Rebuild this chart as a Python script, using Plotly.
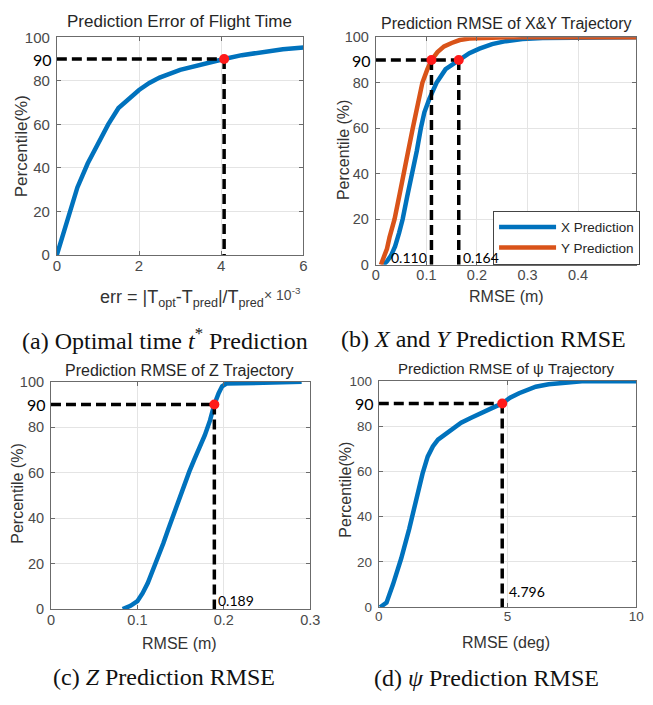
import plotly.graph_objects as go

W, H = 653, 705

# ---- data -------------------------------------------------------------
# (a) flight-time prediction error (x 1e-3) vs percentile
err_x = [0, 0.1, 0.25, 0.5, 0.75, 1.0, 1.25, 1.5, 1.75, 2.0, 2.25, 2.5, 3.0, 3.5, 4.07, 4.5, 5.0, 5.5, 6.0]
err_p = [0, 6, 15.5, 31, 42, 51.5, 60, 67.5, 72, 75.8, 79, 81.5, 85, 87.5, 90, 91.8, 93.3, 94.5, 95.3]
err_p90 = 4.07

# (b) X / Y trajectory RMSE (m)
x_rmse = [0.015, 0.022, 0.030, 0.038, 0.046, 0.053, 0.062, 0.072, 0.081, 0.089, 0.096, 0.106, 0.120,
          0.138, 0.164, 0.185, 0.205, 0.23, 0.257, 0.29, 0.33, 0.40, 0.515]
x_pct = [0, 1.5, 4, 8, 14, 20, 30, 40, 50, 60, 67, 73, 80, 86, 90, 93, 95, 97, 98.3, 99.2, 99.7, 100, 100]
y_rmse = [0.010, 0.016, 0.022, 0.027, 0.037, 0.047, 0.056, 0.064, 0.073, 0.082, 0.092, 0.102, 0.110,
          0.122, 0.135, 0.150, 0.166, 0.185, 0.21, 0.26, 0.515]
y_pct = [0, 3, 7, 12, 20, 31, 40, 50, 60, 70, 80, 86, 90, 93.5, 96, 97.5, 98.8, 99.5, 99.8, 100, 100]
x_p90 = 0.164
y_p90 = 0.110

# (c) Z trajectory RMSE (m)
z_rmse = [0.083, 0.092, 0.100, 0.106, 0.112, 0.118, 0.124, 0.130, 0.136, 0.142, 0.148, 0.154, 0.160,
          0.166, 0.172, 0.178, 0.184, 0.189, 0.194, 0.198, 0.203, 0.22, 0.25, 0.29]
z_pct = [0, 1.5, 3.5, 7, 11.5, 17, 23, 29, 35.5, 42, 48.5, 54.5, 60.5, 66, 71, 76.5, 83, 90, 95, 98,
         99.2, 99.4, 99.7, 100]
z_p90 = 0.189

# (d) yaw trajectory RMSE (deg)
psi_rmse = [0.05, 0.3, 0.55, 0.87, 1.18, 1.5, 1.7, 1.9, 2.1, 2.3, 2.6, 2.9, 3.2, 3.55, 3.9, 4.2, 4.5,
            4.796, 5.1, 5.45, 5.8, 6.1, 6.6, 7.3, 8.0, 9.0, 10.0]
psi_pct = [0, 2, 10, 21.5, 34.5, 50, 59, 66.5, 71, 74, 76.5, 79, 81.5, 83.5, 85.5, 87, 88.5, 90, 92.5,
           94.5, 96.2, 97.4, 98.5, 99.4, 99.9, 99.8, 99.8]
psi_p90 = 4.796

pct_level = 90
y_ticks = [0, 20, 40, 60, 80, 100]

# ---- styling ----------------------------------------------------------
BLUE = "#0072BD"
ORANGE = "#D95319"
RED = "#ff1a1a"
SANS = "Liberation Sans, Arial, sans-serif"
SERIF = "Liberation Serif, Times New Roman, serif"
NOTE = "Lato, Carlito, sans-serif"
DASH = "10px,5px"


def px(x):
    return x / W


def py(y):
    return 1 - y / H


fig = go.Figure()

# panel geometry in pixels: left, right, top, bottom
boxes = {
    1: (54, 306, 29, 252),
    2: (380, 646, 29, 262),
    3: (48, 313, 382, 615),
    4: (383, 646, 381, 613),
}
xranges = {1: [0, 6], 2: [0, 0.515], 3: [0, 0.3], 4: [0, 10]}
xticks = {1: [0, 2, 4, 6], 2: [0, 0.1, 0.2, 0.3, 0.4], 3: [0, 0.1, 0.2, 0.3], 4: [0, 5, 10]}
tick_size = {1: 15, 2: 14.5, 3: 14.5, 4: 13.5}


def axis_style(size):
    return dict(
        showline=True, linecolor="#6b6b6b", linewidth=1, mirror="ticks",
        ticks="inside", ticklen=4, tickcolor="#6b6b6b",
        showgrid=True, gridcolor="#e4e4e4", gridwidth=1, zeroline=False,
        tickfont=dict(family=SANS, size=size, color="#4a4a4a"),
    )


layout_axes = {}
for k, (l, r, t, b) in boxes.items():
    sx = "" if k == 1 else str(k)
    xa = axis_style(tick_size[k])
    xa.update(domain=[px(l), px(r)], range=xranges[k], tickvals=xticks[k],
              anchor="y" + sx, ticklabelstandoff=-3)
    ya = axis_style(tick_size[k])
    ya.update(domain=[py(b), py(t)], range=[0, 100], tickvals=y_ticks,
              anchor="x" + sx, ticklabelstandoff=3)
    layout_axes["xaxis" + sx] = xa
    layout_axes["yaxis" + sx] = ya


def add_curve(k, xs, ys, color, name=None):
    sx = "" if k == 1 else str(k)
    fig.add_trace(go.Scatter(
        x=xs, y=ys, mode="lines", line=dict(color=color, width=4.5),
        name=name or "", showlegend=name is not None, xaxis="x" + sx, yaxis="y" + sx,
    ))


def add_guides(k, x90s):
    sx = "" if k == 1 else str(k)
    xmax = max(x90s)
    fig.add_trace(go.Scatter(
        x=[0, xmax], y=[pct_level, pct_level], mode="lines",
        line=dict(color="black", width=3.5, dash=DASH), showlegend=False,
        xaxis="x" + sx, yaxis="y" + sx, hoverinfo="skip",
    ))
    for xv in x90s:
        fig.add_trace(go.Scatter(
            x=[xv, xv], y=[pct_level, 0], mode="lines",
            line=dict(color="black", width=3.5, dash=DASH), showlegend=False,
            xaxis="x" + sx, yaxis="y" + sx, hoverinfo="skip",
        ))
    fig.add_trace(go.Scatter(
        x=x90s, y=[pct_level] * len(x90s), mode="markers",
        marker=dict(color=RED, size=10), showlegend=False,
        xaxis="x" + sx, yaxis="y" + sx,
    ))


add_curve(1, err_x, err_p, BLUE)
add_guides(1, [err_p90])

add_curve(2, x_rmse, x_pct, BLUE, "X Prediction")
add_curve(2, y_rmse, y_pct, ORANGE, "Y Prediction")
add_guides(2, [y_p90, x_p90])

add_curve(3, z_rmse, z_pct, BLUE)
add_guides(3, [z_p90])

add_curve(4, psi_rmse, psi_pct, BLUE)
add_guides(4, [psi_p90])

ann = []


def text(x, y, s, size, family=SANS, color="#262626", **kw):
    d = dict(x=px(x), y=py(y), xref="paper", yref="paper", text=s, showarrow=False,
             font=dict(family=family, size=size, color=color), xanchor="center", yanchor="middle")
    d.update(kw)
    ann.append(d)


# panel titles
text(179, 13, "Prediction Error of Flight Time", 17)
text(513, 15, "Prediction RMSE of X&Y Trajectory", 16)
text(179, 370, "Prediction RMSE of Z Trajectory", 16)
text(513, 368, "Prediction RMSE of ψ Trajectory", 15)

# axis labels
text(182, 297, "err = |T<sub>opt</sub>-T<sub>pred</sub>|/T<sub>pred</sub>", 18, color="#333333")
text(306, 292, "× 10<sup>-3</sup>", 14, color="#4a4a4a", xanchor="right")
text(514, 295, "RMSE (m)", 16, color="#333333")
text(179, 650, "RMSE (m)", 16, color="#333333")
text(513, 649, "RMSE (deg)", 16, color="#333333")
text(18, 141, "Percentile(%)", 17, color="#333333", textangle=-90)
text(347, 145, "Percentile (%)", 16, color="#333333", textangle=-90)
text(13, 497, "Percentile (%)", 16, color="#333333", textangle=-90)
text(349, 493, "Percentile(%)", 16, color="#333333", textangle=-90)

# sub-figure captions
text(165, 338, "(a) Optimal time <i>t</i><sup>*</sup> Prediction", 24, family=SERIF, color="#111111")
text(490, 338, "(b) <i>X</i> and <i>Y</i> Prediction RMSE", 24, family=SERIF, color="#111111")
text(164, 685, "(c) <i>Z</i> Prediction RMSE", 24, family=SERIF, color="#111111")
text(493, 686, "(d) <i>ψ</i> Prediction RMSE", 24, family=SERIF, color="#111111")

# 90th-percentile labels on each y axis
for k in (1, 2, 3, 4):
    sx = "" if k == 1 else str(k)
    ann.append(dict(x=0, y=pct_level, xref="x" + sx, yref="y" + sx, text=str(pct_level),
                    showarrow=False, xanchor="right", yanchor="middle", xshift=-3,
                    font=dict(family=NOTE, size=16, color="black")))

# value labels at the 90th percentile
value_notes = [
    (2, y_p90, f"{y_p90:.3f}", "right", -2, 3),
    (2, x_p90, f"{x_p90:.3f}", "left", 2, 3),
    (3, z_p90, f"{z_p90:.3f}", "left", 2, 4),
    (4, psi_p90, f"{psi_p90:.3f}", "left", 5, 7),
]
for k, xv, s, anchor, shift, yv in value_notes:
    sx = "" if k == 1 else str(k)
    ann.append(dict(x=xv, y=yv, xref="x" + sx, yref="y" + sx, text=s, showarrow=False,
                    xanchor=anchor, yanchor="middle", xshift=shift,
                    font=dict(family=NOTE, size=14, color="black")))

fig.update_layout(
    width=W, height=H, margin=dict(l=0, r=0, t=0, b=0),
    paper_bgcolor="white", plot_bgcolor="white",
    annotations=ann,
    legend=dict(
        x=px(650), y=py(262), xanchor="right", yanchor="bottom",
        bgcolor="white", bordercolor="#444444", borderwidth=1,
        font=dict(family=SANS, size=13.5, color="#262626"),
        itemwidth=57, tracegroupgap=0,
    ),
    **layout_axes,
)

fig.write_html("out.html")
